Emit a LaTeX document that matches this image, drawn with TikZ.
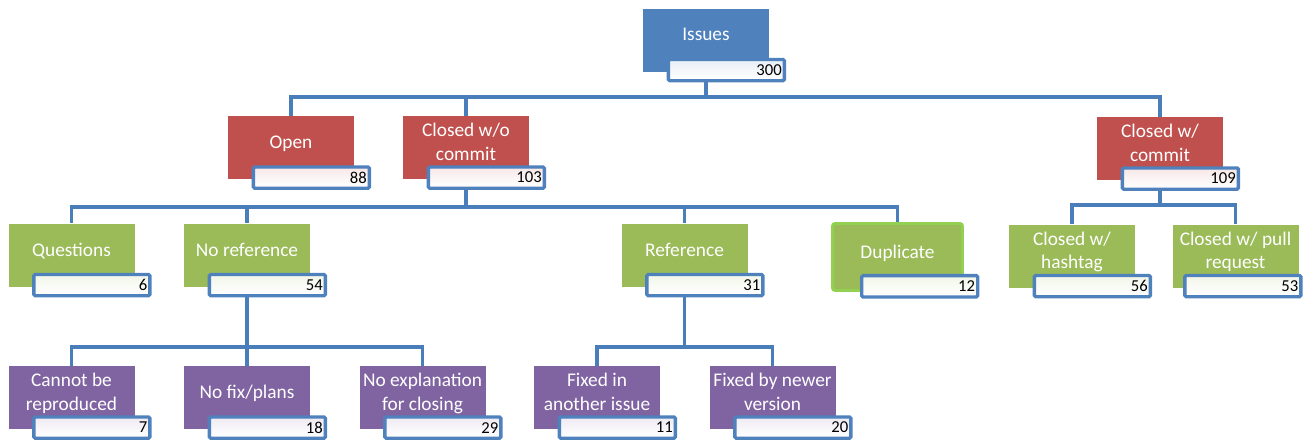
\documentclass[tikz,border=0pt]{standalone}
\usepackage{fontspec}
\setmainfont{Carlito}
\usetikzlibrary{positioning, calc, backgrounds}
\definecolor{issueblue}{HTML}{4F81BD}
\definecolor{statered}{HTML}{C0504D}
\definecolor{kindgreen}{HTML}{9BBB59}
\definecolor{causepurple}{HTML}{8064A2}
\definecolor{linkblue}{HTML}{4A7EBB}
\definecolor{glowgreen}{HTML}{92D050}

\begin{document}
\begin{tikzpicture}[
    x=0.75pt, y=-0.75pt,
    box/.style={minimum width=94.5pt, minimum height=47.25pt, inner sep=0pt,
                text=white, align=center, text depth=8.4pt,
                font=\fontsize{14.5}{17.5}\selectfont},
    tally/.style={draw=issueblue, line width=2.5pt, rounded corners=1pt,
                  top color=#1!14, bottom color=white, middle color=#1!6,
                  minimum width=87pt, minimum height=16pt, inner sep=0pt,
                  text width=83pt, align=right, text=black, anchor=north west,
                  font=\fontsize{12.5}{14}\selectfont},
    link/.style={draw=linkblue, line width=2.6pt},
]
    \useasboundingbox (0,0) rectangle (1307,443);

    % Root
    \node[box, fill=issueblue] (issues) at (706,40) {Issues};
    \node[tally=issueblue] (issuesn) at ($(issues.south west)+(24,-14)$) {300};

    % State
    \node[box, fill=statered] (open) at (291,147.5) {Open};
    \node[tally=statered] (openn) at ($(open.south west)+(24,-14)$) {88};
    \node[box, fill=statered] (closedwo) at (466,147.5) {Closed w/o\\commit};
    \node[tally=statered] (closedwon) at ($(closedwo.south west)+(24,-14)$) {103};
    \node[box, fill=statered] (closedw) at (1160,148.5) {Closed w/\\commit};
    \node[tally=statered] (closedwn) at ($(closedw.south west)+(24,-14)$) {109};

    % Kind
    \node[box, fill=kindgreen] (questions) at (71.5,255) {Questions};
    \node[tally=kindgreen] (questionsn) at ($(questions.south west)+(24,-14)$) {6};
    \node[box, fill=kindgreen] (noref) at (247,255) {No reference};
    \node[tally=kindgreen] (norefn) at ($(noref.south west)+(24,-14)$) {54};
    \node[box, fill=kindgreen] (reference) at (684.5,255) {Reference};
    \node[tally=kindgreen] (referencen) at ($(reference.south west)+(24,-14)$) {31};
    \node[box, fill=kindgreen, draw=glowgreen, line width=2.2pt, rounded corners=2pt,
          minimum width=97.5pt, minimum height=50.25pt] (duplicate) at (897.5,257) {Duplicate};
    \node[tally=kindgreen] (duplicaten) at ($(duplicate.south west)+(29,-18)$) {12};
    \node[box, fill=kindgreen] (hashtag) at (1072,256) {Closed w/\\hashtag};
    \node[tally=kindgreen] (hashtagn) at ($(hashtag.south west)+(24,-14)$) {56};
    \node[box, fill=kindgreen] (pullreq) at (1235.5,256) {Closed w/ pull\\request};
    \node[tally=kindgreen] (pullreqn) at ($(pullreq.south west)+(11,-14)$) {53};

    % Cause
    \node[box, fill=causepurple] (cannot) at (71.5,397.5) {Cannot be\\reproduced};
    \node[tally=causepurple] (cannotn) at ($(cannot.south west)+(24,-14)$) {7};
    \node[box, fill=causepurple] (nofix) at (247,397.5) {No fix/plans};
    \node[tally=causepurple] (nofixn) at ($(nofix.south west)+(24,-14)$) {18};
    \node[box, fill=causepurple] (noexpl) at (422.5,397.5) {No explanation\\for closing};
    \node[tally=causepurple] (noexpln) at ($(noexpl.south west)+(24,-14)$) {29};
    \node[box, fill=causepurple] (fixedin) at (597,397.5) {Fixed in\\another issue};
    \node[tally=causepurple] (fixedinn) at ($(fixedin.south west)+(24,-14)$) {11};
    \node[box, fill=causepurple] (fixednewer) at (772.5,397.5) {Fixed by newer\\version};
    \node[tally=causepurple] (fixednewern) at ($(fixednewer.south west)+(24,-14)$) {20};

    % Bus lines
    \coordinate (busA) at (0,97);
    \coordinate (busB) at (0,207);
    \coordinate (busC) at (0,205);
    \coordinate (busD) at (0,347);

    \begin{scope}[on background layer]
        \foreach \kid in {open, closedwo, closedw}
            \draw[link] (issues.south) |- (busA -| \kid.north) -- (\kid.north);
        \foreach \kid in {questions, noref, reference, duplicate}
            \draw[link] (closedwo.south) |- (busB -| \kid.north) -- (\kid.north);
        \foreach \kid in {hashtag, pullreq}
            \draw[link] (closedw.south) |- (busC -| \kid.north) -- (\kid.north);
        \foreach \kid in {cannot, nofix, noexpl}
            \draw[link] (noref.south) |- (busD -| \kid.north) -- (\kid.north);
        \foreach \kid in {fixedin, fixednewer}
            \draw[link] (reference.south) |- (busD -| \kid.north) -- (\kid.north);
    \end{scope}
\end{tikzpicture}
\end{document}
